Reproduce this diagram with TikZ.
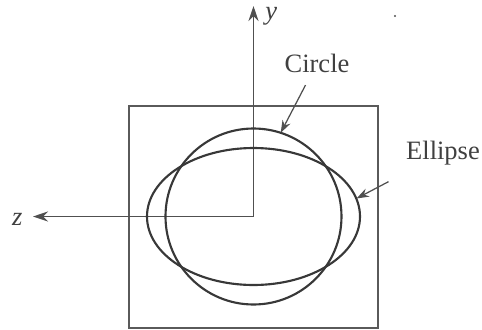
\documentclass[tikz,border=0pt]{standalone}
\usepackage{fontspec}
\setmainfont{Liberation Serif}
\usetikzlibrary{arrows.meta, calc}

\begin{document}
\begin{tikzpicture}[x=0.4pt, y=0.4pt,
    frameline/.style={draw=FrameColor, line width=0.45pt},
    axisline/.style={draw=AxisColor, line width=0.6pt, -{Stealth[length=6pt, width=4pt]}},
    curveline/.style={draw=CurveColor, line width=0.85pt},
    pointer/.style={draw=AxisColor, line width=0.5pt, -{Stealth[length=5pt, width=3.5pt]}, shorten <=1pt},
    lbl/.style={font=\fontsize{10.6}{12}\selectfont, text=TextColor, inner sep=4pt}]

% Define Colors
\definecolor{FrameColor}{HTML}{5A5A5A}
\definecolor{AxisColor}{HTML}{505050}
\definecolor{CurveColor}{HTML}{383838}
\definecolor{TextColor}{HTML}{404040}

\useasboundingbox (0,0) rectangle (482,329);

  % Frame
  \draw[frameline] (129,1) rectangle (378,223);

  % Axes
  \coordinate (origin) at (253.5,112.5);
  \coordinate (ytip) at (253.5,323);
  \coordinate (ztip) at (33,112.5);
  \draw[axisline] (origin) -- (ytip);
  \draw[axisline] (origin) -- (ztip);
  \node[lbl, anchor=base west, inner sep=0pt] (ylbl) at (265,310) {\textit{y}};
  \node[lbl, anchor=base east, inner sep=0pt] (zlbl) at (23,104) {\textit{z}};

  % Circle and Ellipse
  \draw[curveline] (origin) circle (88);
  \draw[curveline] (origin) ellipse (106.5 and 68.5);

  % Annotations
  \coordinate (circpt) at ($(origin)+(72:88)$);
  \coordinate (ellpt) at (356.5,130.5);
  \node[lbl] (lblcircle) at (317,266) {Circle};
  \node[lbl, inner sep=6pt] (lblellipse) at (443,176) {Ellipse};
  \draw[pointer] (lblcircle) -- (circpt);
  \draw[pointer] (lblellipse) -- (ellpt);

  % stray dot
  \fill[AxisColor] (395,313) circle (1.2);

\end{tikzpicture}
\end{document}
